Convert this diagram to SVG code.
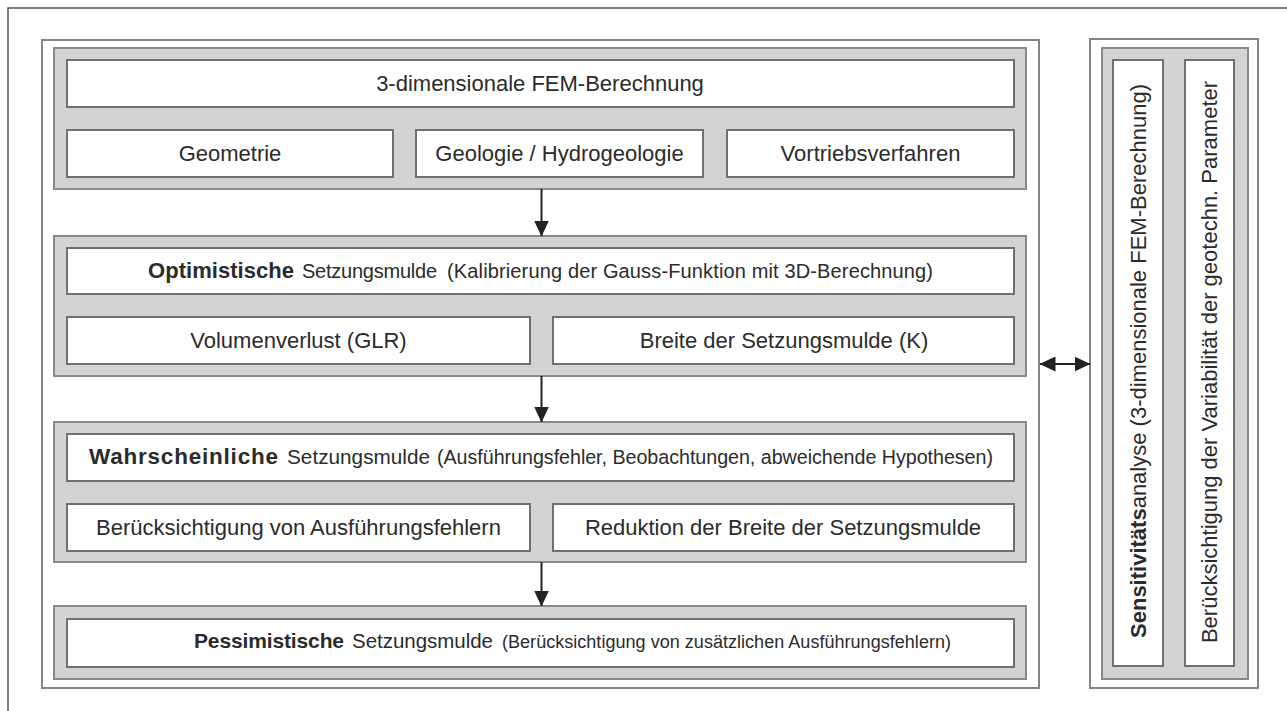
<svg xmlns="http://www.w3.org/2000/svg" width="1287" height="711" viewBox="0 0 1287 711">
<defs>
<style>
.frame{fill:none;stroke:#555;stroke-width:1.5}
.main{fill:#fff;stroke:#858585;stroke-width:2}
.grp{fill:#d3d3d3;stroke:#8a8a8a;stroke-width:2}
.box{fill:#fff;stroke:#707070;stroke-width:2}
.t{font-family:"Liberation Sans",Arial,sans-serif;fill:#2b2b2b;font-size:22px}
.c{text-anchor:middle}
.b{font-weight:bold}
.ln{stroke:#222;stroke-width:2;fill:none}
</style>
<marker id="ah" viewBox="0 0 16 15" refX="15.5" refY="7.5" markerWidth="16" markerHeight="15" markerUnits="userSpaceOnUse" orient="auto-start-reverse">
<path d="M0,0 L16,7.5 L0,15 z" fill="#222"/>
</marker>
</defs>
<rect width="1287" height="711" fill="#fff"/>
<path class="frame" d="M8,711 V8 H1287"/>

<g id="left-panel">
<rect class="main" x="42" y="40" width="997" height="648"/>
</g>

<g id="group-fem">
<rect class="grp" x="54" y="48" width="972" height="141"/>
<g id="n-fem"><rect class="box" x="67" y="60" width="947" height="47"/><text class="t c" x="540" y="91">3-dimensionale FEM-Berechnung</text></g>
<g id="n-geometrie"><rect class="box" x="67" y="130" width="326" height="47"/><text class="t c" x="230" y="161">Geometrie</text></g>
<g id="n-geologie"><rect class="box" x="416" y="130" width="287" height="47"/><text class="t c" x="559.5" y="161">Geologie / Hydrogeologie</text></g>
<g id="n-vortrieb"><rect class="box" x="727" y="130" width="287" height="47"/><text class="t c" x="870.5" y="161">Vortriebsverfahren</text></g>
</g>

<g id="group-opt">
<rect class="grp" x="54" y="236" width="972" height="140"/>
<g id="n-opt"><rect class="box" x="67" y="248" width="947" height="46"/>
<text class="t" y="278"><tspan class="b" x="148" font-size="22" textLength="146">Optimistische</tspan><tspan x="302" font-size="20" textLength="135">Setzungsmulde</tspan><tspan x="447" font-size="20" textLength="486">(Kalibrierung der Gauss-Funktion mit 3D-Berechnung)</tspan></text></g>
<g id="n-vol"><rect class="box" x="67" y="317" width="463" height="47"/><text class="t c" x="298.5" y="348">Volumenverlust (GLR)</text></g>
<g id="n-breite"><rect class="box" x="553" y="317" width="461" height="47"/><text class="t c" x="784" y="348">Breite der Setzungsmulde (K)</text></g>
</g>

<g id="group-wahr">
<rect class="grp" x="54" y="422" width="972" height="140"/>
<g id="n-wahr"><rect class="box" x="67" y="434" width="947" height="47"/>
<text class="t" y="464"><tspan class="b" x="89" font-size="22.5" textLength="189">Wahrscheinliche</tspan><tspan x="287" font-size="20.7" textLength="143">Setzungsmulde</tspan><tspan x="437" font-size="19.7" textLength="556">(Ausführungsfehler, Beobachtungen, abweichende Hypothesen)</tspan></text></g>
<g id="n-ausf"><rect class="box" x="67" y="504" width="463" height="47"/><text class="t c" x="298.5" y="535">Berücksichtigung von Ausführungsfehlern</text></g>
<g id="n-reduktion"><rect class="box" x="553" y="504" width="461" height="47"/><text class="t c" x="783" y="535">Reduktion der Breite der Setzungsmulde</text></g>
</g>

<g id="group-pess">
<rect class="grp" x="54" y="606" width="972" height="73"/>
<g id="n-pess"><rect class="box" x="67" y="619" width="947" height="48"/>
<text class="t" y="648"><tspan class="b" x="194" font-size="21" textLength="150">Pessimistische</tspan><tspan x="352" font-size="20.5" textLength="141">Setzungsmulde</tspan><tspan x="502" font-size="18" textLength="449">(Berücksichtigung von zusätzlichen Ausführungsfehlern)</tspan></text></g>
</g>

<g id="right-panel">
<rect class="main" x="1090" y="39" width="168" height="649"/>
<rect class="grp" x="1102" y="48" width="146" height="631"/>
<g id="n-sens"><rect class="box" x="1113" y="60" width="50" height="606"/>
<text class="t c" transform="translate(1146,361) rotate(-90)" font-size="21.5"><tspan class="b">Sensitivitäts</tspan>analyse (3-dimensionale FEM-Berechnung)</text></g>
<g id="n-var"><rect class="box" x="1185" y="60" width="49" height="606"/>
<text class="t c" transform="translate(1217,362) rotate(-90)">Berücksichtigung der Variabilität der geotechn. Parameter</text></g>
</g>

<g id="connectors">
<line class="ln" x1="541.5" y1="189" x2="541.5" y2="236" marker-end="url(#ah)"/>
<line class="ln" x1="541.5" y1="376" x2="541.5" y2="422" marker-end="url(#ah)"/>
<line class="ln" x1="541.5" y1="562" x2="541.5" y2="606" marker-end="url(#ah)"/>
<line class="ln" x1="1040" y1="364" x2="1090" y2="364" marker-start="url(#ah)" marker-end="url(#ah)"/>
</g>
</svg>
